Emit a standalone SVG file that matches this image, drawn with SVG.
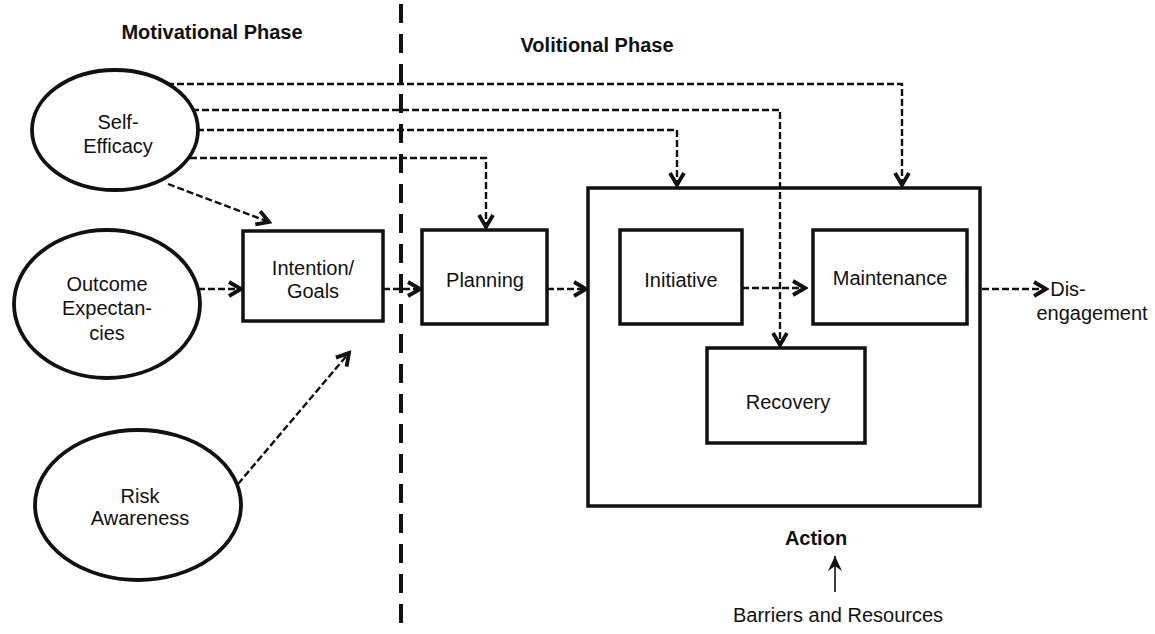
<svg xmlns="http://www.w3.org/2000/svg" width="1155" height="634" viewBox="0 0 1155 634">
<style>
text{font-family:"Liberation Sans",Arial,sans-serif;font-size:20px;fill:#111;text-anchor:middle}
.title{font-weight:bold}
.node{fill:#fff;stroke:#111;stroke-width:3.8}
.box{fill:#fff;stroke:#111;stroke-width:3.5}
.conn{fill:none;stroke:#111;stroke-width:2.4;stroke-dasharray:7 3}
.solid{fill:none;stroke:#111;stroke-width:1.6}
.phase{fill:none;stroke:#111;stroke-width:4;stroke-dasharray:19 11}
</style>
<defs>
<marker id="v" viewBox="0 0 18 18" refX="15" refY="9" markerWidth="18" markerHeight="18" markerUnits="userSpaceOnUse" orient="auto">
<path d="M3,2 L15,9 L3,16" fill="none" stroke="#111" stroke-width="3.8" stroke-linejoin="miter"/>
</marker>
<marker id="f" viewBox="0 0 16 16" refX="15" refY="8" markerWidth="16" markerHeight="16" markerUnits="userSpaceOnUse" orient="auto">
<path d="M0,1 L15,8 L0,15 L5,8 Z" fill="#111"/>
</marker>
</defs>
<rect width="1155" height="634" fill="#fff"/>
<line class="phase" x1="401" y1="4" x2="401" y2="634"/>
<text class="title" x="212" y="39">Motivational Phase</text>
<text class="title" x="597" y="52">Volitional Phase</text>

<g id="action">
<rect class="box" x="588" y="188" width="392" height="318"/>
<text class="title" x="816" y="545">Action</text>
</g>
<g id="self-efficacy">
<ellipse class="node" cx="115" cy="130" rx="83" ry="60"/>
<text x="118" y="129">Self-</text>
<text x="118" y="153">Efficacy</text>
</g>
<g id="outcome">
<ellipse class="node" cx="107" cy="304" rx="93" ry="74"/>
<text x="107" y="291">Outcome</text>
<text x="107" y="315">Expectan-</text>
<text x="107" y="340">cies</text>
</g>
<g id="risk">
<ellipse class="node" cx="138" cy="505" rx="103" ry="75"/>
<text x="140" y="503">Risk</text>
<text x="140" y="525">Awareness</text>
</g>
<g id="intention">
<rect class="box" x="243" y="231" width="140" height="90"/>
<text x="313" y="275">Intention/</text>
<text x="313" y="298">Goals</text>
</g>
<g id="planning">
<rect class="box" x="422" y="230" width="125" height="94"/>
<text x="485" y="287">Planning</text>
</g>
<g id="initiative">
<rect class="box" x="620" y="230" width="122" height="94"/>
<text x="681" y="287">Initiative</text>
</g>
<g id="maintenance">
<rect class="box" x="813" y="230" width="154" height="94"/>
<text x="890" y="285">Maintenance</text>
</g>
<g id="recovery">
<rect class="box" x="707" y="348" width="158" height="95"/>
<text x="788" y="409">Recovery</text>
</g>
<g id="disengagement">
<text x="1068" y="296">Dis-</text>
<text x="1092" y="320">engagement</text>
</g>
<g id="barriers">
<text x="838" y="622">Barriers and Resources</text>
</g>

<g id="connectors">
<polyline class="conn" points="167,84 902,84 902,185" marker-end="url(#v)"/>
<polyline class="conn" points="192,110 780,110 780,345" marker-end="url(#v)"/>
<polyline class="conn" points="197,130 677,130 677,185" marker-end="url(#v)"/>
<polyline class="conn" points="190,158 486,158 486,227" marker-end="url(#v)"/>
<line class="conn" x1="168" y1="184" x2="269" y2="222" marker-end="url(#v)"/>
<line class="conn" x1="238" y1="484" x2="349" y2="353" marker-end="url(#v)"/>
<line class="conn" x1="198" y1="289" x2="241" y2="289" marker-end="url(#v)"/>
<line class="conn" x1="383" y1="289" x2="420" y2="289" marker-end="url(#v)"/>
<line class="conn" x1="547" y1="289" x2="586" y2="289" marker-end="url(#v)"/>
<line class="conn" x1="742" y1="288" x2="805" y2="288" marker-end="url(#v)"/>
<line class="conn" x1="982" y1="289" x2="1046" y2="289" marker-end="url(#v)"/>
<line class="solid" x1="835" y1="592" x2="835" y2="556" marker-end="url(#f)"/>
</g>
</svg>
